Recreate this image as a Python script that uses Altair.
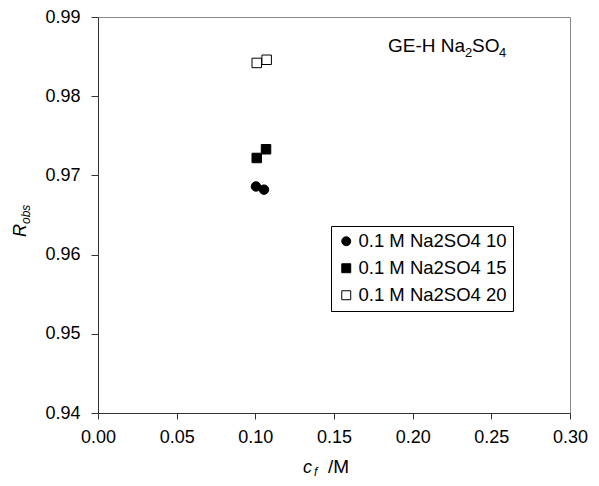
import altair as alt
import pandas as pd

series = ["0.1 M Na2SO4 10", "0.1 M Na2SO4 15", "0.1 M Na2SO4 20"]
cf_10 = [0.1004, 0.1055]
r_10 = [0.9686, 0.9682]
cf_15 = [0.1009, 0.1068]
r_15 = [0.9722, 0.9733]
cf_20 = [0.1009, 0.1072]
r_20 = [0.9842, 0.9846]

x_ticks = [0.00, 0.05, 0.10, 0.15, 0.20, 0.25, 0.30]
y_ticks = [0.94, 0.95, 0.96, 0.97, 0.98, 0.99]

rows = []
for name, xs, ys in [(series[0], cf_10, r_10), (series[1], cf_15, r_15), (series[2], cf_20, r_20)]:
    for xv, yv in zip(xs, ys):
        rows.append({"series": name, "cf": xv, "R": yv})
df = pd.DataFrame(rows)

FONT = "Liberation Sans"
W, H = 472, 396

leg = alt.Legend(title=None, orient="none", legendX=233, legendY=209)

points = alt.Chart(df).mark_point(filled=True, strokeWidth=1, opacity=1).encode(
    x=alt.X("cf:Q", scale=alt.Scale(domain=[0, 0.3], nice=False, zero=False),
            axis=alt.Axis(values=x_ticks, format=".2f", title=None, grid=False,
                          labelFlush=False, labelPadding=9)),
    y=alt.Y("R:Q", scale=alt.Scale(domain=[0.94, 0.99], nice=False, zero=False),
            axis=alt.Axis(values=y_ticks, format=".2f", title=None, grid=False,
                          labelFlush=False, labelPadding=11, tickSize=7)),
    shape=alt.Shape("series:N", scale=alt.Scale(domain=series, range=["circle", "square", "square"]), legend=leg),
    fill=alt.Fill("series:N", scale=alt.Scale(domain=series, range=["black", "black", "white"]), legend=leg),
    stroke=alt.Stroke("series:N", scale=alt.Scale(domain=series, range=["black", "black", "black"]), legend=leg),
    size=alt.value(90),
)

one = alt.Data(values=[{}])

def txt(text, x, y, size=18, italic=False, angle=0, align="left"):
    kw = dict(text=text, font=FONT, fontSize=size, color="black", align=align, baseline="alphabetic")
    if italic:
        kw["fontStyle"] = "italic"
    if angle:
        kw["angle"] = angle
    return alt.Chart(one).mark_text(**kw).encode(x=alt.value(x), y=alt.value(y))

# annotation GE-H Na2SO4 (plot coordinates)
ann = [
    txt("GE-H Na", 290, 35, 19),
    txt("2", 367, 40, 13),
    txt("SO", 374, 35, 19),
    txt("4", 401, 40, 13),
]
# x title: c_f /M
xt = [
    txt("c", 205, 456, 18, italic=True),
    txt("f", 216, 459, 12, italic=True),
    txt("/M", 230, 456, 19),
]
# y title: R_obs rotated
yt = [
    txt("R", -72, 220, 18, italic=True, angle=270),
    txt("obs", -68, 207, 12, italic=True, angle=270),
]

chart = alt.layer(points, *ann, *xt, *yt).properties(
    width=W, height=H,
    padding={"left": 90, "top": 9, "right": 21, "bottom": 70},
    autosize="none",
).configure_view(
    stroke="#888888", strokeWidth=1
).configure_axis(
    domainColor="#333333", tickColor="#333333", tickSize=6,
    labelFont=FONT, labelFontSize=18, labelColor="black",
).configure_legend(
    strokeColor="black", fillColor="white", padding=6, cornerRadius=0,
    labelFont=FONT, labelFontSize=18.5, labelColor="black",
    symbolSize=80, symbolStrokeWidth=1, rowPadding=8,
    labelOffset=3,
)

chart.save("out.html", embed_options={"renderer": "svg", "actions": False})
